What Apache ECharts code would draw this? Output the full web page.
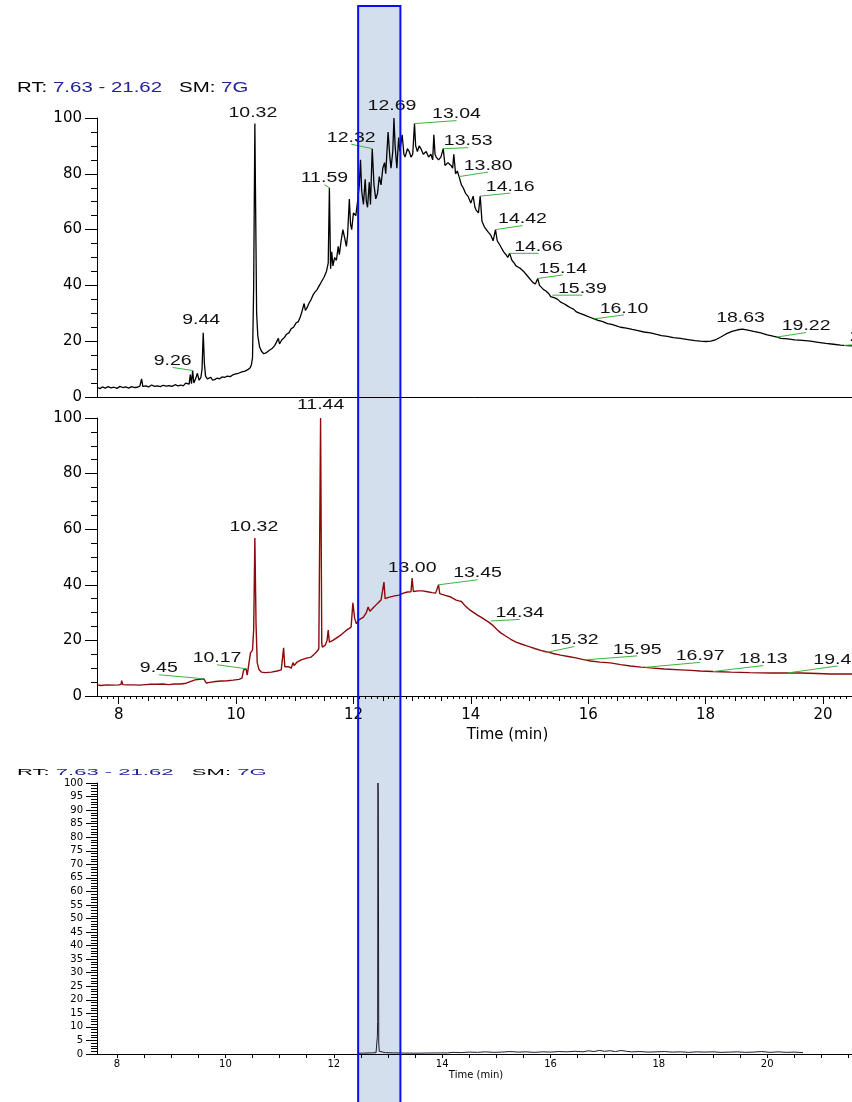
<!DOCTYPE html>
<html><head><meta charset="utf-8">
<script src="https://cdn.jsdelivr.net/npm/echarts@6/dist/echarts.min.js"></script>
<style>html,body{margin:0;padding:0;background:#fff}#c{width:852px;height:1102px}</style>
</head><body><div id="c"></div>
<script>
// ---------- data ----------
const RT_RANGE = [7.63, 21.62];
const SMOOTH = '7G';
const xTickLabels = [8, 10, 12, 14, 16, 18, 20];
const yTickLabels = [0, 20, 40, 60, 80, 100];
const yTickLabelsBottom = [0,5,10,15,20,25,30,35,40,45,50,55,60,65,70,75,80,85,90,95,100];
const BAND = [12.08, 12.80]; // highlighted time window (top-panel time scale)

// top chromatogram [time (min), relative abundance]
const topTrace = [
[7.63,3.5],[7.68,3.0],[7.72,3.6],[7.77,3.2],[7.82,3.7],[7.87,3.3],[7.92,3.5],[7.97,3.1],[8.02,3.8],[8.07,3.4],
[8.12,3.6],[8.17,3.2],[8.22,3.7],[8.27,3.4],[8.32,3.5],[8.36,3.9],[8.39,6.5],[8.41,3.8],[8.46,4.0],[8.51,3.6],
[8.56,4.3],[8.61,3.8],[8.66,4.0],[8.71,3.7],[8.76,4.2],[8.81,3.9],[8.86,4.1],[8.91,3.8],[8.96,4.4],[9.01,4.0],
[9.06,4.3],[9.10,4.0],[9.14,5.0],[9.17,4.3],[9.20,4.6],[9.22,8.0],[9.24,4.8],[9.26,9.5],[9.28,5.0],[9.31,6.5],
[9.34,8.5],[9.37,6.0],[9.40,7.0],[9.42,10],[9.44,23],[9.46,12],[9.48,7.5],[9.51,6.5],[9.54,5.8],[9.57,7.0],
[9.60,6.0],[9.64,6.3],[9.68,6.8],[9.72,6.5],[9.76,7.2],[9.80,7.0],[9.85,7.5],[9.90,7.3],[9.95,8.0],[10.00,8.3],
[10.05,8.6],[10.10,9.0],[10.15,9.3],[10.20,9.8],[10.24,10.5],[10.26,11.5],[10.28,14],[10.30,40],[10.32,98],[10.33,75],
[10.35,30],[10.37,22],[10.40,18],[10.43,16.5],[10.47,15.5],[10.51,15.8],[10.55,16.5],[10.58,16.3],[10.62,17.5],[10.66,18.5],
[10.69,18.0],[10.72,21.0],[10.74,19.0],[10.78,20.5],[10.82,21.2],[10.86,22.5],[10.90,23.0],[10.94,24.5],[10.98,25.0],[11.02,26.5],
[11.06,27.0],[11.10,29.0],[11.13,28.5],[11.16,33.5],[11.18,31.0],[11.21,32.0],[11.24,33.5],[11.28,35.0],[11.31,36.5],[11.34,37.5],
[11.38,38.5],[11.42,40.0],[11.46,41.5],[11.50,43.0],[11.54,45.0],[11.57,48],[11.59,75],[11.61,46],[11.63,52],[11.65,47],
[11.68,50],[11.71,49],[11.74,54],[11.76,51],[11.79,56],[11.82,60],[11.85,57],[11.88,54],[11.90,58],[11.93,71],
[11.95,62],[11.97,60],[12.00,66],[12.04,65],[12.07,70],[12.10,76],[12.12,85],[12.14,74],[12.17,69],[12.20,78],
[12.22,70],[12.24,68],[12.27,77],[12.29,69],[12.32,89],[12.35,76],[12.38,71],[12.41,73],[12.44,79],[12.47,76],
[12.50,82],[12.53,84],[12.55,80],[12.59,95],[12.62,86],[12.64,82],[12.67,88],[12.69,100],[12.71,90],[12.74,82],
[12.77,93],[12.79,88],[12.83,94],[12.86,87],[12.88,86],[12.92,89],[12.95,88],[12.98,86],[13.01,87],[13.04,98],
[13.06,90],[13.09,88],[13.12,90],[13.15,89],[13.19,87],[13.24,88],[13.28,86],[13.32,87],[13.35,85],[13.37,94],
[13.39,87],[13.41,86],[13.45,85],[13.49,86],[13.53,89],[13.56,83],[13.61,84],[13.66,83],[13.69,82],[13.71,87],
[13.74,80],[13.77,81],[13.80,79],[13.84,76],[13.87,75],[13.91,73],[13.95,72],[14.00,69.5],[14.04,72],[14.07,68],
[14.09,67],[14.13,66],[14.16,72],[14.19,63],[14.23,61],[14.26,60.5],[14.30,59],[14.34,58],[14.38,56],[14.42,60],
[14.45,56],[14.48,55],[14.52,53.5],[14.56,52],[14.60,51],[14.63,50],[14.66,51.5],[14.70,49],[14.74,48],[14.77,47],
[14.81,46.5],[14.85,46],[14.90,45],[14.94,44],[14.98,43],[15.02,42],[15.06,41],[15.10,40.5],[15.14,42.5],[15.17,40],
[15.20,39.5],[15.24,38.5],[15.28,38],[15.33,37],[15.36,36],[15.39,36.5],[15.43,35.5],[15.48,35],[15.53,34],[15.58,33.5],
[15.62,33],[15.66,32.5],[15.70,32],[15.75,31.5],[15.80,30.5],[15.86,30],[15.92,29.5],[15.98,29],[16.04,28.5],[16.10,28],
[16.17,27.5],[16.25,27],[16.33,26.3],[16.40,26],[16.48,25.5],[16.55,25],[16.65,24.7],[16.75,24.2],[16.85,23.8],[16.95,23.3],
[17.06,23],[17.15,22.5],[17.25,22],[17.35,21.7],[17.45,21.3],[17.57,21],[17.70,20.6],[17.82,20.2],[17.91,20],[18.00,19.9],
[18.09,20],[18.18,20.6],[18.26,21.5],[18.35,22.6],[18.45,23.5],[18.55,24.1],[18.63,24.3],[18.72,24.0],[18.82,23.5],[18.94,23],
[19.05,22.3],[19.15,21.8],[19.22,21.5],[19.28,21],[19.40,20.8],[19.52,20.5],[19.65,20.3],[19.79,20],[19.92,19.6],[20.05,19.2],
[20.18,18.9],[20.30,18.6],[20.36,18.5],[20.50,18.3],[20.70,18.0],[21.00,17.7],[21.30,17.4],[21.62,17.2]
];
const topPeakRT = [9.26, 9.44, 10.32, 11.59, 12.32, 12.69, 13.04, 13.53, 13.80, 14.16, 14.42, 14.66, 15.14, 15.39, 16.10, 18.63, 19.22, 20.36];

// middle chromatogram
const midTrace = [
[7.63,4.0],[7.70,3.8],[7.80,4.0],[7.90,3.9],[8.00,4.0],[8.04,4.2],[8.05,5.5],[8.07,4.1],[8.15,4.0],[8.25,4.0],
[8.35,3.9],[8.45,4.1],[8.55,4.2],[8.65,4.2],[8.75,4.3],[8.85,4.1],[8.95,4.3],[9.05,4.3],[9.15,4.6],[9.22,5.2],
[9.30,5.8],[9.38,6.0],[9.45,6.2],[9.47,5.8],[9.49,4.7],[9.55,4.9],[9.65,5.2],[9.75,5.4],[9.85,5.5],[9.95,5.7],
[10.05,6.0],[10.10,6.4],[10.13,9.4],[10.17,9.8],[10.19,7.5],[10.21,8.0],[10.245,15.5],[10.28,16.5],[10.30,24],[10.32,56.8],
[10.34,26],[10.36,12],[10.39,9.5],[10.43,8.6],[10.50,8.4],[10.60,8.6],[10.70,9.0],[10.77,9.4],[10.80,10],[10.81,17.3],
[10.83,10.5],[10.86,10],[10.90,10.5],[10.94,10],[10.97,12],[10.99,11],[11.04,12.2],[11.11,13],[11.20,13.6],[11.28,14],
[11.33,15],[11.37,15.8],[11.41,17],[11.44,100],[11.46,19],[11.47,17.6],[11.52,18.3],[11.55,20],[11.57,23.7],[11.59,19.4],
[11.65,20],[11.72,21],[11.79,22],[11.87,23.5],[11.96,24.8],[11.99,33.5],[12.02,28],[12.05,26],[12.10,27.5],[12.17,28.4],
[12.22,30],[12.25,32],[12.28,30.5],[12.35,32],[12.42,33.5],[12.47,34.5],[12.50,35],[12.52,41],[12.54,35],[12.60,35.5],
[12.70,36],[12.78,36.3],[12.85,37],[12.92,37.4],[12.98,37.5],[13.00,42.4],[13.02,37.6],[13.10,37.8],[13.18,37.8],[13.26,37.5],
[13.34,37.2],[13.40,37],[13.43,36.8],[13.45,40],[13.47,36.8],[13.55,36.3],[13.66,35.6],[13.75,34.5],[13.80,34.2],[13.84,34.0],
[13.87,34.0],[13.90,32.5],[13.98,31],[14.05,30],[14.12,29],[14.20,28],[14.27,27],[14.31,26.5],[14.34,27],[14.37,25.5],
[14.44,24],[14.51,22.7],[14.60,21.5],[14.68,20.4],[14.77,19.4],[14.86,18.7],[14.94,18.1],[15.02,17.6],[15.10,17],[15.19,16.4],
[15.28,15.9],[15.32,15.8],[15.40,15.3],[15.53,14.7],[15.66,14.2],[15.79,13.7],[15.92,13.1],[15.95,13.0],[16.04,12.6],[16.20,12.2],
[16.38,11.9],[16.55,11.3],[16.72,10.8],[16.90,10.4],[16.97,10.3],[17.06,10.1],[17.30,9.7],[17.57,9.4],[17.75,9.2],[17.91,9.0],
[18.13,8.8],[18.43,8.6],[18.75,8.4],[19.11,8.3],[19.40,8.3],[19.62,8.3],[19.90,8.1],[20.13,7.9],[20.50,7.9],[20.90,7.8],
[21.30,7.7],[21.62,7.6]
];
const midPeakRT = [9.45, 10.17, 10.32, 11.44, 13.00, 13.45, 14.34, 15.32, 15.95, 16.97, 18.13, 19.40];

// bottom chromatogram
const botTrace = [
[12.45,0.3],[12.55,0.3],[12.65,0.4],[12.72,0.4],[12.78,0.5],[12.80,0.8],[12.805,6.5],[12.81,12],[12.815,100],[12.82,97],
[12.825,55],[12.83,4],[12.84,1.0],[12.87,0.6],[12.95,0.5],[13.10,0.4],[13.30,0.35],[13.50,0.3],[13.70,0.35],[13.90,0.4],
[14.10,0.4],[14.20,0.6],[14.35,0.5],[14.50,0.7],[14.65,0.6],[14.80,0.8],[14.95,0.6],[15.10,0.7],[15.25,0.9],[15.40,0.7],
[15.55,0.8],[15.70,0.6],[15.85,0.8],[16.00,0.7],[16.15,0.9],[16.30,0.8],[16.45,1.0],[16.60,0.8],[16.70,1.2],[16.80,0.9],
[16.90,1.3],[17.00,1.0],[17.10,1.2],[17.20,0.9],[17.30,1.3],[17.40,1.0],[17.50,0.8],[17.65,0.9],[17.80,0.7],[17.95,0.8],
[18.10,0.9],[18.25,0.7],[18.40,0.8],[18.55,0.6],[18.70,0.8],[18.85,0.7],[19.00,0.8],[19.15,0.6],[19.30,0.7],[19.45,0.8],
[19.60,0.6],[19.75,0.7],[19.90,0.9],[20.05,0.6],[20.20,0.8],[20.35,0.6],[20.50,0.7],[20.66,0.5]
];

// ---------- label layout (pixel offsets of label anchor from peak apex) ----------
const topLabelOffsets = [[-20,-3],[-2,-6],[-2,-4.5],[-5,-3],[-21,-4.5],[-2,-5.5],[42,-3],[25,-1],[29,-4.5],[30,-3],[27,-4],[29,0],[25,-3.5],[30,0],[30,-4],[-2,-5],[29,-4.5],[30,-2]];
const midLabelOffsets = [[-45,-4],[-29,-4],[-1,-4.5],[0,-6.5],[0,-3.5],[39,-5],[29,-1.5],[26,-5.5],[52,-4],[55,-5],[50,-6],[50,-7]];

function apexValue(trace, rt) {
  let best = null, bd = 1e9;
  for (const p of trace) { const d = Math.abs(p[0] - rt); if (d < bd) { bd = d; best = p; } }
  if (bd <= 0.04) return best[1];
  for (let i = 0; i < trace.length - 1; i++) {
    const a = trace[i], b = trace[i + 1];
    if (a[0] <= rt && b[0] >= rt) return a[1] + (b[1] - a[1]) * (rt - a[0]) / (b[0] - a[0]);
  }
  return best[1];
}

const LABEL_FONT = '15px "Liberation Sans", Arial, sans-serif';
function labelSeries(xIdx, yIdx, rts, trace, offsets) {
  return {
    type: 'custom', xAxisIndex: xIdx, yAxisIndex: yIdx, z: 5, silent: true, clip: false,
    data: rts.map((rt, i) => [rt, apexValue(trace, rt), i]),
    renderItem: function (params, api) {
      const p = api.coord([api.value(0), api.value(1)]);
      const i = api.value(2);
      const o = offsets[i];
      const ax = p[0] + o[0], ay = p[1] + o[1];
      const children = [];
      if (Math.abs(o[0]) >= 3) {
        children.push({ type: 'line', shape: { x1: p[0], y1: p[1], x2: ax, y2: ay },
          style: { stroke: '#3db43d', lineWidth: 1 } });
      }
      children.push({ type: 'text', x: ax, y: ay - 6.5, scaleX: 1.3,
        style: { text: rts[i].toFixed(2), fill: '#111', font: LABEL_FONT, align: 'center', verticalAlign: 'middle' } });
      return { type: 'group', children: children };
    }
  };
}

function ticksEvery(step, from, to) {
  const out = [];
  for (let v = from; v <= to + 1e-9; v += step) out.push(Math.round(v * 100) / 100);
  return out;
}

const AX_FONT = 'DejaVu Sans';
const black = { color: '#000', width: 1 };

const chart = echarts.init(document.getElementById('c'), null, { renderer: 'canvas', width: 852, height: 1102 });

const option = {
  backgroundColor: '#fff',
  animation: false,
  grid: [
    { left: 97, top: 118, width: 821, height: 279, containLabel: false, outerBoundsMode: 'none' },
    { left: 97, top: 418, width: 821, height: 278, containLabel: false, outerBoundsMode: 'none' },
    { left: 97, top: 783, width: 758, height: 271, containLabel: false, outerBoundsMode: 'none' }
  ],
  xAxis: [
    { gridIndex: 0, type: 'value', min: RT_RANGE[0], max: RT_RANGE[1], position: 'bottom',
      axisLine: { show: true, onZero: false, lineStyle: black }, axisTick: { show: false }, axisLabel: { show: false }, splitLine: { show: false } },
    { gridIndex: 1, type: 'value', min: RT_RANGE[0], max: RT_RANGE[1], position: 'bottom',
      axisLine: { show: true, onZero: false, lineStyle: black },
      axisTick: { show: true, customValues: xTickLabels, length: 8, lineStyle: black },
      axisLabel: { show: true, customValues: xTickLabels, margin: 12, color: '#000', fontSize: 15, fontFamily: AX_FONT },
      splitLine: { show: false },
      name: 'Time (min)', nameLocation: 'middle', nameGap: 32,
      nameTextStyle: { color: '#000', fontSize: 15, fontFamily: AX_FONT } },
    { gridIndex: 1, type: 'value', min: RT_RANGE[0], max: RT_RANGE[1], position: 'bottom',
      axisLine: { show: false, onZero: false }, axisTick: { show: true, customValues: ticksEvery(0.5, 8, 21.5), length: 5, lineStyle: black },
      axisLabel: { show: false }, splitLine: { show: false } },
    { gridIndex: 1, type: 'value', min: RT_RANGE[0], max: RT_RANGE[1], position: 'bottom',
      axisLine: { show: false, onZero: false }, axisTick: { show: true, customValues: ticksEvery(0.1, 7.7, 21.6), length: 3, lineStyle: black },
      axisLabel: { show: false }, splitLine: { show: false } },
    { gridIndex: 2, type: 'value', min: RT_RANGE[0], max: RT_RANGE[1], position: 'bottom',
      axisLine: { show: true, onZero: false, lineStyle: black },
      axisTick: { show: true, customValues: ticksEvery(0.5, 8, 21.5), length: 4, lineStyle: black },
      axisLabel: { show: true, customValues: xTickLabels, margin: 5, color: '#000', fontSize: 10, fontFamily: AX_FONT },
      splitLine: { show: false },
      name: 'Time (min)', nameLocation: 'middle', nameGap: 16,
      nameTextStyle: { color: '#000', fontSize: 10, fontFamily: AX_FONT } }
  ],
  yAxis: [
    { gridIndex: 0, type: 'value', min: 0, max: 100, interval: 20,
      axisLine: { show: true, lineStyle: black }, axisTick: { show: true, length: 12, lineStyle: black },
      minorTick: { show: true, splitNumber: 4, length: 6, lineStyle: black },
      axisLabel: { margin: 15, color: '#000', fontSize: 15, fontFamily: AX_FONT, customValues: yTickLabels },
      splitLine: { show: false }, minorSplitLine: { show: false } },
    { gridIndex: 1, type: 'value', min: 0, max: 100, interval: 20,
      axisLine: { show: true, lineStyle: black }, axisTick: { show: true, length: 12, lineStyle: black },
      minorTick: { show: true, splitNumber: 4, length: 6, lineStyle: black },
      axisLabel: { margin: 15, color: '#000', fontSize: 15, fontFamily: AX_FONT, customValues: yTickLabels },
      splitLine: { show: false }, minorSplitLine: { show: false } },
    { gridIndex: 2, type: 'value', min: 0, max: 100, interval: 5,
      axisLine: { show: true, lineStyle: black }, axisTick: { show: true, length: 11, lineStyle: black },
      minorTick: { show: true, splitNumber: 5, length: 6, lineStyle: { color: '#000', width: 1 } },
      axisLabel: { margin: 14, color: '#000', fontSize: 10, fontFamily: AX_FONT, customValues: yTickLabelsBottom },
      splitLine: { show: false }, minorSplitLine: { show: false } }
  ],
  series: [
    { type: 'line', xAxisIndex: 0, yAxisIndex: 0, data: topTrace, showSymbol: false, symbol: 'none',
      lineStyle: { color: '#000', width: 1.3 }, z: 3 },
    { type: 'line', xAxisIndex: 1, yAxisIndex: 1, data: midTrace, showSymbol: false, symbol: 'none',
      lineStyle: { color: '#8b0a0a', width: 1.4 }, z: 3 },
    { type: 'line', xAxisIndex: 4, yAxisIndex: 2, data: botTrace, showSymbol: false, symbol: 'none',
      lineStyle: { color: '#1b1b2b', width: 1 }, z: 3 },
    labelSeries(0, 0, topPeakRT, topTrace, topLabelOffsets),
    labelSeries(1, 1, midPeakRT, midTrace, midLabelOffsets)
  ]
};
chart.setOption(option);

// highlighted window + header texts
const bx1 = chart.convertToPixel({ xAxisIndex: 0 }, BAND[0]);
const bx2 = chart.convertToPixel({ xAxisIndex: 0 }, BAND[1]);
const hdr = `{k|RT:} {v|${RT_RANGE[0].toFixed(2)} - ${RT_RANGE[1].toFixed(2)}}   {k|SM:} {v|${SMOOTH}}`;
function header(y, size, sx) {
  const f = 'Liberation Sans';
  const lh = Math.round(size * 1.4);
  return { type: 'text', x: 17, y: y, scaleX: sx, z: 10,
    style: { text: hdr, fontSize: size, fontFamily: f, fill: '#000', align: 'left', verticalAlign: 'middle', lineHeight: lh,
      rich: { k: { fill: '#000', fontSize: size, fontFamily: f, lineHeight: lh },
              v: { fill: '#22229a', fontSize: size, fontFamily: f, lineHeight: lh } } } };
}
chart.setOption({
  graphic: [
    { type: 'rect', z: -1, shape: { x: bx1, y: 6, width: bx2 - bx1, height: 1110 }, style: { fill: '#d4dfee' } },
    { type: 'rect', z: 100, shape: { x: bx1, y: 6, width: bx2 - bx1, height: 1110 }, style: { fill: 'none', stroke: '#0a0aff', lineWidth: 2 } },
    header(88, 14, 1.46),
    header(773, 9, 2.45)
  ]
});
</script>
</body></html>
